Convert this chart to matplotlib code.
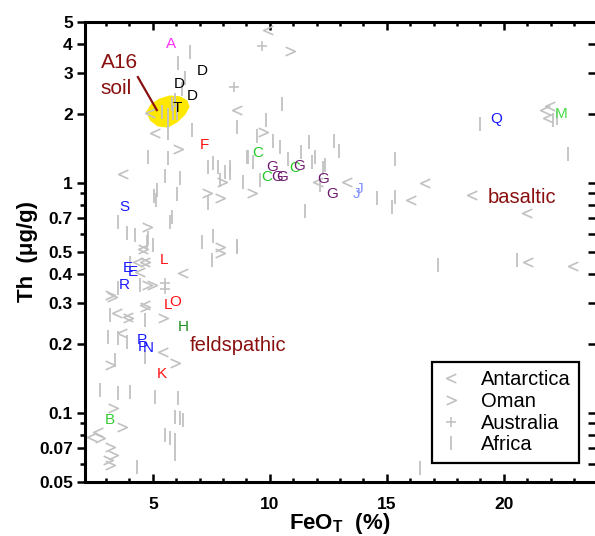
import matplotlib
matplotlib.use("Agg")
import matplotlib.pyplot as plt
from matplotlib.path import Path
from matplotlib.ticker import FixedLocator, FixedFormatter, NullFormatter, MultipleLocator
from matplotlib.patches import Polygon

plt.rcParams['font.family'] = ['Liberation Sans', 'DejaVu Sans']
plt.rcParams['mathtext.fontset'] = 'custom'
plt.rcParams['mathtext.rm'] = 'Liberation Sans'
plt.rcParams['mathtext.bf'] = 'Liberation Sans:bold'

# ---------------- data ----------------
africa_feo = [6.58, 6.07, 6.37, 6.24, 5.94, 5.81, 5.38, 5.64, 5.85, 6.03, 5.64, 6.67, 5.64, 4.79,
              5.64, 7.35, 7.56, 7.78, 8.08, 8.29, 8.59, 9.02, 5.51, 6.15, 7.86, 7.35, 5.04, 5.13,
              5.17, 6.03, 5.81, 5.73, 4.79, 5.00, 7.09, 7.56, 8.59, 7.52, 3.50, 3.89, 4.23, 4.74,
              4.02, 3.50, 4.44, 3.16, 4.66, 3.08, 3.50, 3.89, 3.38, 4.66, 2.74, 3.50, 4.02, 5.09,
              6.07, 5.94, 6.15, 6.28, 5.51, 5.73, 5.94, 5.94, 4.32, 10.51, 9.83, 9.44, 10.43, 11.67,
              11.32, 11.92, 11.79, 12.74, 12.95, 15.34, 9.06, 9.27, 10.77, 12.35, 12.26, 8.29, 8.85,
              9.57, 12.14, 11.50, 14.57, 15.21, 15.34, 8.59, 18.97, 22.26, 22.09, 22.74, 17.18,
              20.56, 16.41, 10.13]
africa_th = [3.70, 3.32, 2.85, 2.56, 2.29, 2.20, 2.03, 1.97, 2.01, 2.01, 1.84, 1.70, 1.65, 1.29,
             1.28, 1.17, 1.22, 1.17, 1.11, 1.17, 1.75, 1.29, 1.07, 1.05, 1.03, 0.817, 0.876, 0.842,
             0.930, 0.894, 0.710, 0.675, 0.575, 0.537, 0.553, 0.587, 0.526, 0.461, 0.675, 0.605,
             0.593, 0.553, 0.448, 0.349, 0.359, 0.266, 0.253, 0.214, 0.211, 0.203, 0.170, 0.175,
             0.126, 0.122, 0.123, 0.117, 0.116, 0.0959, 0.0949, 0.0930, 0.0800, 0.0777, 0.0761,
             0.0662, 0.0581, 2.20, 1.87, 1.60, 1.43, 1.50, 1.36, 1.29, 1.23, 1.52, 1.37, 1.27,
             1.29, 1.23, 1.27, 1.19, 1.16, 1.10, 1.01, 1.03, 0.978, 0.754, 0.859, 0.785, 0.867,
             0.531, 1.80, 1.91, 1.87, 1.33, 0.439, 0.461, 0.0575, 1.52]

antarctica_feo = [4.87, 5.09, 8.59, 6.28, 3.72, 4.36, 4.44, 3.46, 3.93, 5.43, 9.91, 12.05, 13.29,
                  16.62, 16.03, 18.63, 20.98, 21.03, 22.95, 21.97, 21.75, 21.88, 2.65, 2.39, 4.66,
                  3.68, 4.57, 4.66]
antarctica_th = [2.01, 1.65, 2.07, 0.405, 1.09, 0.452, 0.409, 0.271, 0.261, 0.184, 4.62, 1.01, 1.01,
                 1.00, 0.842, 0.885, 0.739, 0.452, 0.434, 2.16, 2.07, 1.91, 0.0825, 0.0785, 0.294,
                 0.222, 0.515, 0.452]

oman_feo = [6.07, 10.85, 9.70, 9.23, 7.95, 7.31, 7.86, 4.74, 7.86, 7.86, 4.74, 4.96, 3.16, 3.25,
            3.93, 4.66, 5.43, 5.94, 3.16, 3.29, 3.68, 3.16, 3.29, 3.08, 3.16, 4.57, 4.66, 2.74]
oman_th = [1.40, 3.74, 1.66, 0.903, 1.01, 0.903, 0.859, 0.642, 0.526, 0.495, 0.359, 0.359, 0.325,
           0.319, 0.258, 0.288, 0.258, 0.165, 0.161, 0.105, 0.0867, 0.0710, 0.0655, 0.0623,
           0.0593, 0.515, 0.452, 0.0777]

australia_feo = [9.66, 8.46, 5.51, 5.51]
australia_th = [3.93, 2.61, 0.366, 0.345]

sample_labels = ['A', 'D', 'D', 'D', 'T', 'F', 'C', 'G', 'C', 'G', 'G', 'C', 'G', 'G', 'G', 'J', 'J',
                 'S', 'E', 'E', 'R', 'L', 'L', 'O', 'H', 'P', 'P', 'N', 'K', 'B', 'Q', 'M']
sample_feo = [5.77, 7.09, 6.11, 6.67, 6.03, 7.22, 9.49, 10.09, 9.87, 10.30, 10.51, 11.07, 11.24,
              12.26, 12.65, 13.72, 13.85, 3.80, 3.93, 4.15, 3.76, 5.47, 5.64, 5.94, 6.32, 4.53,
              4.55, 4.79, 5.38, 3.16, 19.66, 22.44]
sample_th = [4.00, 3.06, 2.69, 2.38, 2.11, 1.46, 1.35, 1.17, 1.06, 1.06, 1.06, 1.16, 1.18, 1.04,
             0.894, 0.894, 0.94, 0.785, 0.426, 0.409, 0.359, 0.461, 0.294, 0.303, 0.237, 0.207,
             0.193, 0.191, 0.147, 0.093, 1.89, 1.99]
sample_colors = ['#ff33ff', 'black', 'black', 'black', 'black', '#ff1010', '#22c922', '#6e1a6e',
                 '#22c922', '#6e1a6e', '#6e1a6e', '#22c922', '#6e1a6e', '#6e1a6e', '#6e1a6e',
                 '#8090ff', '#8090ff', '#1a1aff', '#1a1aff', '#1a1aff', '#1a1aff', '#ff1010',
                 '#ff1010', '#ff1010', '#1f8f1f', '#1a1aff', '#1a1aff', '#1a1aff', '#ff1010',
                 '#33cc33', '#1a1aff', '#44dd44']

# A16 soil field outline
soil_feo = [4.74, 4.96, 5.30, 5.73, 6.15, 6.45, 6.54, 6.37, 6.03, 5.64, 5.21, 4.91]
soil_th = [2.03, 2.20, 2.31, 2.38, 2.36, 2.27, 2.14, 1.99, 1.84, 1.75, 1.77, 1.87]

y_major = [0.05, 0.07, 0.1, 0.2, 0.3, 0.4, 0.5, 0.7, 1, 2, 3, 4, 5]
y_major_labels = ['0.05', '0.07', '0.1', '0.2', '0.3', '0.4', '0.5', '0.7', '1', '2', '3', '4', '5']
y_minor = [0.06, 0.08, 0.09, 0.6, 0.8, 0.9]

# ---------------- figure ----------------
fig = plt.figure(figsize=(5.95, 5.36), dpi=100)
ax = fig.add_axes([85 / 595, 54 / 536, 511 / 595, 460 / 536])
ax.set_yscale('log')
ax.set_xlim(2.1, 2.1 + 511 / 23.4)
ax.set_ylim(0.05, 5)

gray = '#c2c2c2'
lt = Path([(0.5, 0.45), (-0.5, 0.0), (0.5, -0.45)], [Path.MOVETO, Path.LINETO, Path.LINETO])
gt = Path([(-0.5, 0.45), (0.5, 0.0), (-0.5, -0.45)], [Path.MOVETO, Path.LINETO, Path.LINETO])

ax.add_patch(Polygon(list(zip(soil_feo, soil_th)), closed=True, facecolor='#ffe800',
                     edgecolor='#ffe800', lw=1, zorder=1))

h1, = ax.plot(antarctica_feo, antarctica_th, ls='none', marker=lt, ms=7, mfc='none',
              mec=gray, mew=1.2, zorder=2, label='Antarctica')
h2, = ax.plot(oman_feo, oman_th, ls='none', marker=gt, ms=7, mfc='none',
              mec=gray, mew=1.2, zorder=2, label='Oman')
h3, = ax.plot(australia_feo, australia_th, ls='none', marker='+', ms=7.5,
              mec=gray, mew=1.2, zorder=2, label='Australia')
h4, = ax.plot(africa_feo, africa_th, ls='none', marker='|', ms=10.5,
              mec=gray, mew=1.3, zorder=2, label='Africa')

for lab, xv, yv, c in zip(sample_labels, sample_feo, sample_th, sample_colors):
    ax.text(xv, yv, lab, color=c, fontsize=11, ha='center', va='center', zorder=4)

dark_red = '#8a1010'
ax.plot([4.36, 5.17], [2.88, 2.07], color=dark_red, lw=1.6, zorder=3)
ax.text(2.78, 3.35, 'A16', color=dark_red, fontsize=15, ha='left', va='center', zorder=4)
ax.text(2.78, 2.58, 'soil', color=dark_red, fontsize=15, ha='left', va='center', zorder=4)
ax.text(20.79, 0.859, 'basaltic', color=dark_red, fontsize=14.5, ha='center', va='center', zorder=4)
ax.text(8.65, 0.197, 'feldspathic', color=dark_red, fontsize=14.5, ha='center', va='center', zorder=4)

# axes styling
for s in ['left', 'bottom', 'top']:
    ax.spines[s].set_linewidth(2.2)
ax.spines['right'].set_visible(False)

ax.yaxis.set_major_locator(FixedLocator(y_major))
ax.yaxis.set_major_formatter(FixedFormatter(y_major_labels))
ax.yaxis.set_minor_locator(FixedLocator(y_minor))
ax.yaxis.set_minor_formatter(NullFormatter())
ax.xaxis.set_major_locator(MultipleLocator(5))
ax.xaxis.set_minor_locator(MultipleLocator(1))

ax.tick_params(axis='x', which='both', direction='in', top=True, bottom=True, width=1.8)
ax.tick_params(axis='x', which='major', length=5.5, pad=11)
ax.tick_params(axis='x', which='minor', length=3.2)
ax.tick_params(axis='y', which='both', direction='out', left=True, right=False, width=1.8)
ax.tick_params(axis='y', which='major', length=5.8, pad=3)
ax.tick_params(axis='y', which='minor', length=3.6)
for t in ax.get_xticklabels() + ax.get_yticklabels():
    t.set_fontweight('bold')
    t.set_fontsize(12.5)

ax2 = ax.twinx()
ax2.set_yscale('log')
ax2.set_ylim(0.05, 5)
ax2.yaxis.set_major_locator(FixedLocator(y_major))
ax2.yaxis.set_minor_locator(FixedLocator(y_minor))
ax2.yaxis.set_major_formatter(NullFormatter())
ax2.yaxis.set_minor_formatter(NullFormatter())
ax2.tick_params(axis='y', which='both', direction='in', left=False, right=True,
                labelright=False, width=1.8)
ax2.tick_params(axis='y', which='major', length=5.5)
ax2.tick_params(axis='y', which='minor', length=5.5)
for s in ax2.spines.values():
    s.set_visible(False)

ax.set_xlabel(r'FeO$_\mathbf{T}$  (%)', fontsize=16, fontweight='bold')
ax.set_ylabel('Th  (μg/g)', fontsize=16, fontweight='bold')
ax.xaxis.set_label_coords(0.499, -0.063)
ax.yaxis.set_label_coords(-0.092, 0.5)

leg = ax2.legend(handles=[h1, h2, h3, h4], loc='upper left', bbox_to_anchor=(0.680, 0.261),
                 fontsize=14.5, frameon=True, fancybox=False, edgecolor='black', framealpha=1,
                 handlelength=1.0, handletextpad=1.0, borderpad=0.4, labelspacing=0.14,
                 borderaxespad=0)
leg.get_frame().set_linewidth(1.6)

fig.savefig('out.png', dpi=100)
